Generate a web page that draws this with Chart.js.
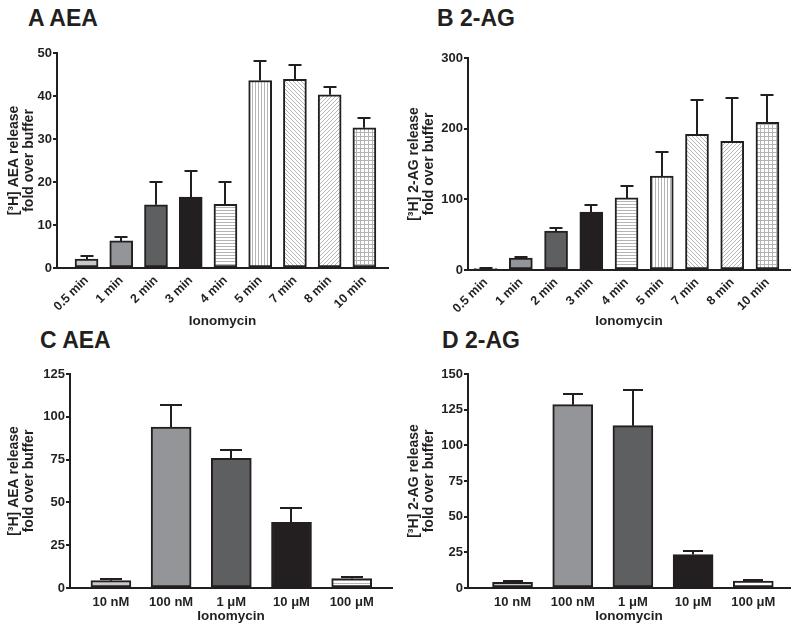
<!DOCTYPE html>
<html>
<head>
<meta charset="utf-8">
<script src="https://cdn.jsdelivr.net/npm/chart.js@4.4.1/dist/chart.umd.min.js"></script>
<style>
  body { margin: 0; background: #fff; width: 800px; height: 634px; position: relative; overflow: hidden; font-family: "Liberation Sans", Arial, sans-serif; }
  canvas { position: absolute; }
  .title { position: absolute; font-weight: bold; font-size: 23px; line-height: 1; color: #231f20; }
</style>
</head>
<body>
<div class="title" style="left:28px;top:7px">A AEA</div>
<div class="title" style="left:437px;top:7px">B 2-AG</div>
<div class="title" style="left:40px;top:329px">C AEA</div>
<div class="title" style="left:442px;top:329px">D 2-AG</div>

<canvas id="chartA" width="400" height="333" style="left:0;top:0"></canvas>
<canvas id="chartB" width="400" height="333" style="left:400px;top:0"></canvas>
<canvas id="chartC" width="400" height="300" style="left:0;top:334px"></canvas>
<canvas id="chartD" width="400" height="300" style="left:400px;top:334px"></canvas>

<script>
// time course (A, B)
const timeLabels = ['0.5 min', '1 min', '2 min', '3 min', '4 min', '5 min', '7 min', '8 min', '10 min'];
const aeaTimeMean = [2.1, 6.3, 14.7, 16.5, 14.8, 43.6, 43.9, 40.3, 32.6];
const aeaTimeSem  = [0.6, 0.9, 5.2, 6.1, 5.1, 4.5, 3.2, 1.9, 2.3];
const agTimeMean  = [2, 17, 55, 82, 102, 133, 192, 182, 209];
const agTimeSem   = [1, 2, 5, 10, 17, 34, 49, 62, 39];

// concentration response (C, D)
const concLabels  = ['10 nM', '100 nM', '1 \u03bcM', '10 \u03bcM', '100 \u03bcM'];
const aeaConcMean = [4.3, 94, 75.7, 38.4, 5.5];
const aeaConcSem  = [1.2, 13, 4.9, 8.3, 0.7];
const agConcMean  = [4, 128.5, 113.8, 23.4, 4.9];
const agConcSem   = [0.7, 7.5, 24.7, 2.3, 0.7];

const yTicksA = [0, 10, 20, 30, 40, 50];
const yTicksB = [0, 100, 200, 300];
const yTicksC = [0, 25, 50, 75, 100, 125];
const yTicksD = [0, 25, 50, 75, 100, 125, 150];

const ink = '#231f20';
const FONT = '"Liberation Sans", Arial, sans-serif';

function pattern(size, draw) {
    const c = document.createElement('canvas');
    c.width = size; c.height = size;
    const g = c.getContext('2d');
    g.fillStyle = '#fff';
    g.fillRect(0, 0, size, size);
    g.strokeStyle = '#b4b4b4';
    g.lineWidth = 1;
    g.beginPath();
    draw(g, size);
    g.stroke();
    return g.createPattern(c, 'repeat');
}

const hLines = pattern(3, (g, s) => { g.moveTo(0, 0.5); g.lineTo(s, 0.5); });
const vLines = pattern(3, (g, s) => { g.moveTo(0.5, 0); g.lineTo(0.5, s); });
const backDiag = pattern(4, (g, s) => {
    g.moveTo(-1, -1); g.lineTo(s + 1, s + 1);
    g.moveTo(-1, s - 1); g.lineTo(1, s + 1);
    g.moveTo(s - 1, -1); g.lineTo(s + 1, 1);
});
const fwdDiag = pattern(4, (g, s) => {
    g.moveTo(-1, s + 1); g.lineTo(s + 1, -1);
    g.moveTo(-1, 1); g.lineTo(1, -1);
    g.moveTo(s - 1, s + 1); g.lineTo(s + 1, s - 1);
});
const grid = pattern(4, (g, s) => {
    g.moveTo(0, 0.5); g.lineTo(s, 0.5);
    g.moveTo(0.5, 0); g.lineTo(0.5, s);
});

const light = '#c8c9ca', mid = '#939598', dark = '#5e5f61', black = ink;
const timeFills = [light, mid, dark, black, hLines, vLines, backDiag, fwdDiag, grid];

const errorBars = {
    id: 'errorBars',
    afterDatasetsDraw(chart, args, opts) {
        const { ctx } = chart;
        const yScale = chart.scales.y;
        const ds = chart.data.datasets[0];
        const meta = chart.getDatasetMeta(0);
        ctx.save();
        ctx.strokeStyle = ink;
        ctx.lineWidth = 2;
        meta.data.forEach((bar, i) => {
            const top = Math.round(yScale.getPixelForValue(ds.data[i].y + opts.errors[i]));
            const x = Math.round(bar.x);
            ctx.beginPath();
            ctx.moveTo(x, bar.y);
            ctx.lineTo(x, top);
            ctx.moveTo(x - opts.cap / 2, top);
            ctx.lineTo(x + opts.cap / 2, top);
            ctx.stroke();
        });
        ctx.restore();
    }
};

function makePanel(id, p) {
    new Chart(document.getElementById(id), {
        type: 'bar',
        data: {
            datasets: [{
                data: p.means.map((v, i) => ({ x: i, y: v })),
                backgroundColor: p.fills,
                borderColor: ink,
                borderWidth: 2,
                borderSkipped: false,
                barThickness: p.barWidth
            }]
        },
        plugins: [errorBars],
        options: {
            responsive: false,
            animation: false,
            layout: { padding: p.padding },
            plugins: {
                legend: { display: false },
                tooltip: { enabled: false },
                errorBars: { errors: p.sems, cap: p.cap }
            },
            scales: {
                x: {
                    type: 'linear',
                    offset: false,
                    min: p.xRange[0],
                    max: p.xRange[1],
                    afterBuildTicks: s => { s.ticks = p.labels.map((l, i) => ({ value: i })); },
                    afterFit: s => { s.height = p.xHeight; },
                    grid: { display: false, drawTicks: false },
                    border: { color: ink, width: 2 },
                    ticks: {
                        autoSkip: false,
                        callback: v => p.labels[v],
                        color: ink,
                        padding: p.xPad,
                        minRotation: p.rotate,
                        maxRotation: p.rotate,
                        font: { family: FONT, size: p.xFont, weight: 'bold' }
                    },
                    title: {
                        display: true,
                        text: 'Ionomycin',
                        color: ink,
                        padding: { top: 0, bottom: 4 },
                        font: { family: FONT, size: 13.5, weight: 'bold', lineHeight: 1.15 }
                    }
                },
                y: {
                    min: 0,
                    max: p.yTicks[p.yTicks.length - 1],
                    afterBuildTicks: s => { s.ticks = p.yTicks.map(v => ({ value: v })); },
                    afterFit: s => { s.width = p.yWidth; },
                    grid: { drawOnChartArea: false, color: ink, lineWidth: 2, tickLength: 4 },
                    border: { color: ink, width: 2 },
                    ticks: {
                        color: ink,
                        padding: 1,
                        font: { family: FONT, size: 13, weight: 'bold' }
                    },
                    title: {
                        display: true,
                        text: p.yTitle,
                        color: ink,
                        padding: { top: 1, bottom: 0 },
                        font: { family: FONT, size: 14, weight: 'bold', lineHeight: 1.1 }
                    }
                }
            }
        }
    });
}

makePanel('chartA', {
    labels: timeLabels, means: aeaTimeMean, sems: aeaTimeSem, fills: timeFills,
    yTicks: yTicksA, yTitle: ['[\u00b3H] AEA release', 'fold over buffer'],
    padding: { top: 53, left: 5, right: 12, bottom: 0 }, yWidth: 52, xHeight: 65,
    xRange: [-0.85, 8.68], barWidth: 23, cap: 13, rotate: 45, xPad: 5, xFont: 12.5
});

makePanel('chartB', {
    labels: timeLabels, means: agTimeMean, sems: agTimeSem, fills: timeFills,
    yTicks: yTicksB, yTitle: ['[\u00b3H] 2-AG release', 'fold over buffer'],
    padding: { top: 58, left: 5, right: 10, bottom: 0 }, yWidth: 63, xHeight: 63,
    xRange: [-0.5, 8.64], barWidth: 23, cap: 13, rotate: 45, xPad: 5, xFont: 12.5
});

makePanel('chartC', {
    labels: concLabels, means: aeaConcMean, sems: aeaConcSem, fills: [light, mid, dark, black, hLines],
    yTicks: yTicksC, yTitle: ['[\u00b3H] AEA release', 'fold over buffer'],
    padding: { top: 40, left: 5, right: 8, bottom: 6 }, yWidth: 65, xHeight: 40,
    xRange: [-0.68, 4.67], barWidth: 40, cap: 22, rotate: 0, xPad: 7, xFont: 13
});

makePanel('chartD', {
    labels: concLabels, means: agConcMean, sems: agConcSem, fills: [light, mid, dark, black, '#fff'],
    yTicks: yTicksD, yTitle: ['[\u00b3H] 2-AG release', 'fold over buffer'],
    padding: { top: 40, left: 5, right: 10, bottom: 6 }, yWidth: 63, xHeight: 40,
    xRange: [-0.74, 4.61], barWidth: 40, cap: 20, rotate: 0, xPad: 7, xFont: 13
});
</script>
</body>
</html>
